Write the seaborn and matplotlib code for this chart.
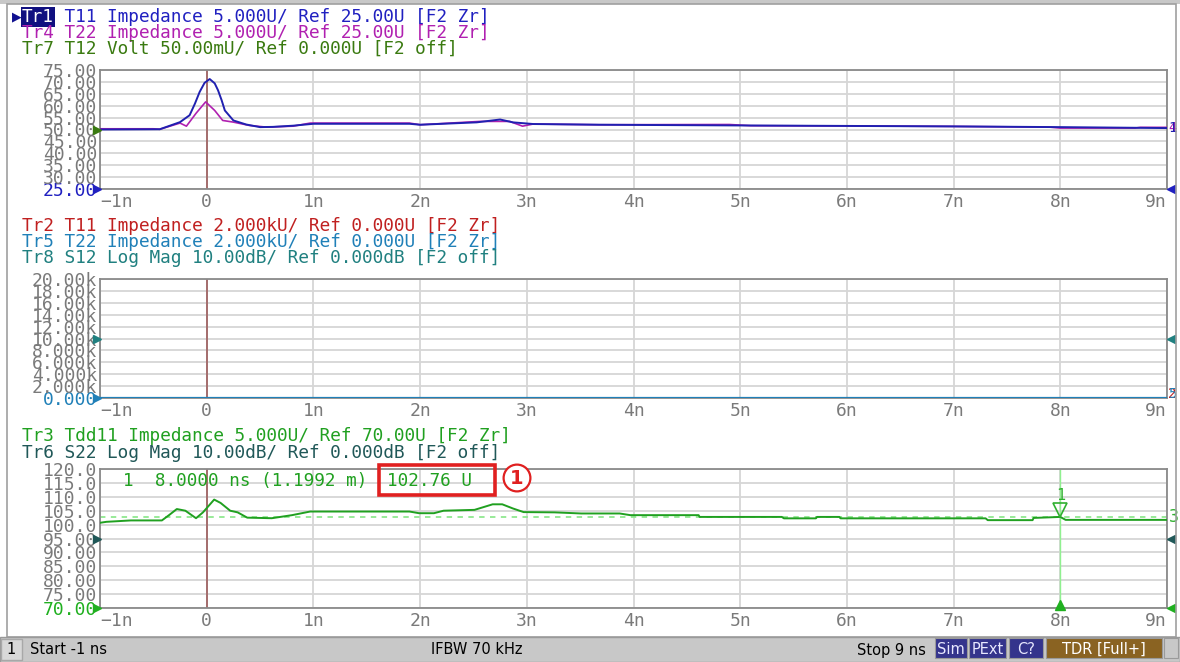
import numpy as np
import matplotlib
matplotlib.use('Agg')
import matplotlib.pyplot as plt
import seaborn as sns
from matplotlib.patches import Rectangle
from matplotlib.transforms import offset_copy

sns.set_style('white')
plt.rcParams['font.family'] = ['DejaVu Sans Mono', 'DejaVu Sans']

# ---------------- data ----------------
x_ticks = list(range(-1, 10))
x_labels = ['\u22121n', '0', '1n', '2n', '3n', '4n', '5n', '6n', '7n', '8n', '9n']

# panel 1 : T11 / T22 impedance (U)
t_t11 = [-1.0, -0.44, -0.25, -0.16, -0.11, -0.066, -0.02, 0.028, 0.075, 0.106, 0.14, 0.17,
         0.25, 0.37, 0.5, 0.62, 0.81, 1.0, 1.9, 2.0, 2.53, 2.75, 2.87, 3.06, 3.68,
         5.0, 6.0, 7.0, 8.0, 9.0]
v_t11 = [50.0, 50.1, 53.1, 56.0, 60.9, 65.8, 69.6, 71.2, 69.4, 66.5, 62.3, 58.0,
         53.8, 52.1, 51.0, 51.1, 51.6, 52.4, 52.4, 52.0, 53.0, 54.2, 53.0, 52.3, 52.0,
         51.7, 51.5, 51.3, 51.0, 50.6]
t_t22 = [-1.0, -0.5, -0.44, -0.25, -0.19, -0.1, -0.01, 0.075, 0.15, 0.25, 0.4, 0.56,
         0.81, 0.97, 1.9, 2.0, 2.56, 2.84, 2.96, 3.06, 3.68, 4.9, 5.1, 6.0, 7.0,
         7.9, 8.0, 8.7, 8.75, 9.0]
v_t22 = [50.3, 50.3, 50.1, 52.7, 51.4, 56.8, 61.6, 58.0, 53.8, 53.1, 51.7, 51.0,
         51.4, 52.7, 52.7, 52.0, 53.4, 53.4, 51.4, 52.3, 52.0, 52.1, 51.6, 51.5, 51.3,
         51.0, 50.6, 50.6, 50.9, 50.9]
top_yticks = [25, 30, 35, 40, 45, 50, 55, 60, 65, 70, 75]
top_ylabels = ['25.00', '30.00', '35.00', '40.00', '45.00', '50.00', '55.00',
               '60.00', '65.00', '70.00', '75.00']

# panel 2 : T11 / T22 impedance (kU)
t_mid = [-1.0, 9.0]
v_tr2 = [0.0, 0.0]
v_tr5 = [0.0, 0.0]
mid_yticks = [0, 2000, 4000, 6000, 8000, 10000, 12000, 14000, 16000, 18000, 20000]
mid_ylabels = ['0.000', '2.000k', '4.000k', '6.000k', '8.000k', '10.00k', '12.00k',
               '14.00k', '16.00k', '18.00k', '20.00k']

# panel 3 : Tdd11 impedance (U)
t_tdd = [-1.0, -0.94, -0.71, -0.42, -0.35, -0.28, -0.2, -0.1, -0.035, 0.07, 0.13, 0.22,
         0.29, 0.38, 0.61, 0.8, 0.97, 1.9, 1.99, 2.13, 2.22, 2.51, 2.68, 2.77, 2.87,
         2.97, 3.26, 3.51, 3.87, 3.97, 4.61, 4.62, 5.39, 5.41, 5.71, 5.72, 5.93, 5.94,
         7.30, 7.32, 7.74, 7.75, 8.0, 8.05, 9.0]
v_tdd = [100.65, 101.0, 101.5, 101.5, 103.5, 105.6, 105.0, 102.3, 104.4, 109.0, 107.8, 105.0,
         104.4, 102.5, 102.3, 103.4, 104.7, 104.7, 104.1, 104.1, 105.0, 105.3, 107.3, 107.3, 105.8,
         104.5, 104.4, 104.0, 104.0, 103.4, 103.4, 102.76, 102.76, 102.25, 102.25, 102.76, 102.76, 102.25,
         102.25, 101.6, 101.6, 102.4, 102.76, 101.7, 101.7]
bot_yticks = [70, 75, 80, 85, 90, 95, 100, 105, 110, 115, 120]
bot_ylabels = ['70.00', '75.00', '80.00', '85.00', '90.00', '95.00', '100.0',
               '105.0', '110.0', '115.0', '120.0']

marker_t = 8.0
marker_v = 102.76

# ---------------- figure ----------------
W, H = 1180, 662
fig = plt.figure(figsize=(W / 100, H / 100), dpi=100)
fig.patch.set_facecolor('white')


def fx(x):
    return x / W


def fy(y):
    return 1 - y / H


def tri(ax, x, y, m, c, dx=0, dy=0, ms=6):
    tr = offset_copy(ax.transData, fig=fig, x=dx, y=dy, units='dots')
    ax.plot([x], [y], marker=m, color=c, ms=ms, transform=tr, clip_on=False, ls='none', zorder=6)


def style(ax, ylim, yticks, ylabels, lab_color):
    ax.set_xlim(-1, 9)
    ax.set_ylim(*ylim)
    ax.set_xticks(x_ticks)
    ax.set_xticklabels(x_labels)
    ax.set_yticks(yticks)
    ax.set_yticklabels(ylabels)
    ax.set_xlabel('')
    ax.set_ylabel('')
    ax.grid(True, color='#d6d6d6', lw=1.3)
    ax.set_axisbelow(True)
    for s in ax.spines.values():
        s.set_color('#8a8a8a')
        s.set_linewidth(1.3)
    ax.tick_params(length=0, labelsize=13, labelcolor='#7a7a7a', pad=2)
    ax.tick_params(axis='x', pad=3)
    ax.get_yticklabels()[0].set_color(lab_color)
    ax.get_xticklabels()[0].set_ha('left')
    ax.get_xticklabels()[-1].set_ha('right')
    ax.axvline(0, color='#a06464', lw=1.3, zorder=2)


def add_ax(top, bottom):
    return fig.add_axes([fx(100), fy(bottom), (1167 - 100) / W, (bottom - top) / H])


# panel 1
ax1 = add_ax(70, 189)
sns.lineplot(x=t_t22, y=v_t22, ax=ax1, color='#b020b0', lw=1.2, zorder=3)
sns.lineplot(x=t_t11, y=v_t11, ax=ax1, color='#2020b0', lw=1.4, zorder=4)
style(ax1, (25, 75), top_yticks, top_ylabels, '#2020c0')
tri(ax1, -1, 50, '>', '#3a7a10', dx=-3)
tri(ax1, -1, 25, '>', '#2020c0', dx=-3)
tri(ax1, 9, 25, '<', '#2020c0', dx=4)
ax1.text(9, 50.8, '4', color='#b020b0', fontsize=10, va='center', ha='left',
         transform=offset_copy(ax1.transData, fig=fig, x=1, units='dots'))
ax1.text(9, 50.8, '1', color='#2020b0', fontsize=10, va='center', ha='left',
         transform=offset_copy(ax1.transData, fig=fig, x=1, units='dots'))

# panel 2
ax2 = add_ax(279, 398)
sns.lineplot(x=t_mid, y=v_tr2, ax=ax2, color='#c02020', lw=1.4, zorder=3)
sns.lineplot(x=t_mid, y=v_tr5, ax=ax2, color='#2080b8', lw=1.6, zorder=4)
style(ax2, (0, 20000), mid_yticks, mid_ylabels, '#2080b8')
tri(ax2, -1, 10000, '>', '#208080', dx=-3)
tri(ax2, -1, 0, '>', '#2080b8', dx=-3)
tri(ax2, 9, 10000, '<', '#208080', dx=4)
ax2.text(9, 0, '2', color='#c02020', fontsize=10, va='bottom', ha='left',
         transform=offset_copy(ax2.transData, fig=fig, x=1, y=-3, units='dots'))
ax2.text(9, 0, '5', color='#2080b8', fontsize=10, va='bottom', ha='left',
         transform=offset_copy(ax2.transData, fig=fig, x=1, y=-3, units='dots'))

# panel 3
ax3 = add_ax(469, 608)
ax3.axhline(marker_v, color='#90e890', lw=1.3, ls=(0, (3, 3)), zorder=2)
ax3.axvline(marker_t, color='#90f090', lw=1.0, zorder=2)
sns.lineplot(x=t_tdd, y=v_tdd, ax=ax3, color='#20a020', lw=1.4, zorder=4)
style(ax3, (70, 120), bot_yticks, bot_ylabels, '#20b020')
tri(ax3, -1, 70, '>', '#20b020', dx=-3)
tri(ax3, -1, 95, '>', '#205858', dx=-3)
tri(ax3, 9, 95, '<', '#205858', dx=4)
tri(ax3, 9, 70, '<', '#20b020', dx=4)
tri(ax3, marker_t, 70, '^', '#20b020', dy=3, ms=7)
ax3.plot([marker_t], [marker_v], marker='v', mfc='none', mec='#30b030', mew=1.2, ms=10,
         transform=offset_copy(ax3.transData, fig=fig, y=7, units='dots'), zorder=6, ls='none')
ax3.text(marker_t, marker_v, '1', color='#30b030', fontsize=11, ha='center', va='bottom',
         transform=offset_copy(ax3.transData, fig=fig, y=14, units='dots'))
ax3.text(9, marker_v, '3', color='#30b030', fontsize=12, va='center', ha='left',
         transform=offset_copy(ax3.transData, fig=fig, x=2, units='dots'))

# marker readout + callout
fig.text(fx(123), fy(481), '1  8.0000 ns (1.1992 m)', color='#20a020', fontsize=12.7, va='center')
fig.text(fx(387), fy(481), '%.2f U' % marker_v, color='#20a020', fontsize=12.7, va='center')
fig.patches.append(Rectangle((fx(379), fy(495)), fx(495) - fx(379), fy(465) - fy(495),
                             transform=fig.transFigure, fill=False, ec='#e02020', lw=2.6))
fig.text(fx(517), fy(478), '1', color='#e02020', fontsize=14, fontweight='bold',
         ha='center', va='center', family='DejaVu Sans',
         bbox=dict(boxstyle='circle,pad=0.2', fc='white', ec='#e02020', lw=1.6))

# trace headers
hs = 12.8
fig.text(fx(12), fy(17), '\u25b6', color='#101090', fontsize=9, va='center', family='DejaVu Sans')
fig.text(fx(22), fy(17), 'Tr1 T11 Impedance 5.000U/ Ref 25.00U [F2 Zr]', color='#2020c0',
         fontsize=hs, va='center')
fig.text(fx(22), fy(17), 'Tr1', color='white', fontsize=hs, va='center',
         bbox=dict(boxstyle='square,pad=0.05', fc='#101080', ec='none'))
fig.text(fx(22), fy(33), 'Tr4 T22 Impedance 5.000U/ Ref 25.00U [F2 Zr]', color='#b020b0',
         fontsize=hs, va='center')
fig.text(fx(22), fy(49), 'Tr7 T12 Volt 50.00mU/ Ref 0.000U [F2 off]', color='#3a7a10',
         fontsize=hs, va='center')

fig.text(fx(22), fy(226), 'Tr2 T11 Impedance 2.000kU/ Ref 0.000U [F2 Zr]', color='#c02020',
         fontsize=hs, va='center')
fig.text(fx(22), fy(242), 'Tr5 T22 Impedance 2.000kU/ Ref 0.000U [F2 Zr]', color='#2080b8',
         fontsize=hs, va='center')
fig.text(fx(22), fy(258), 'Tr8 S12 Log Mag 10.00dB/ Ref 0.000dB [F2 off]', color='#208080',
         fontsize=hs, va='center')

fig.text(fx(22), fy(436), 'Tr3 Tdd11 Impedance 5.000U/ Ref 70.00U [F2 Zr]', color='#20a020',
         fontsize=hs, va='center')
fig.text(fx(22), fy(453), 'Tr6 S22 Log Mag 10.00dB/ Ref 0.000dB [F2 off]', color='#205858',
         fontsize=hs, va='center')

# window frame
fig.patches.append(Rectangle((0, fy(4)), 1, 4 / H, transform=fig.transFigure,
                             fc='#c8c8c8', ec='none'))
fig.patches.append(Rectangle((fx(7), fy(637)), fx(1176) - fx(7), fy(4) - fy(637),
                             transform=fig.transFigure, fill=False, ec='#a0a0a0', lw=1.2))

# status bar
fig.patches.append(Rectangle((0, 0), 1, 25 / H, transform=fig.transFigure,
                             fc='#c8c8c8', ec='#9a9a9a', lw=1))
fig.patches.append(Rectangle((fx(1), fy(660)), 21 / W, 21 / H, transform=fig.transFigure,
                             fc='#d8d8d8', ec='#a8a8a8', lw=1))
sf = dict(fontsize=10.5, va='center', family='DejaVu Sans')
fig.text(fx(11), fy(650), '1', ha='center', color='black', **sf)
fig.text(fx(30), fy(650), 'Start -1 ns', ha='left', color='black', **sf)
fig.text(fx(477), fy(650), 'IFBW 70 kHz', ha='center', color='black', **sf)
fig.text(fx(926), fy(650), 'Stop 9 ns', ha='right', color='black', **sf)
boxes = [('Sim', 935, 967, '#34348c', '#e8e8ff'),
         ('PExt', 969, 1006, '#34348c', '#e8e8ff'),
         ('C?', 1009, 1043, '#34348c', '#e8e8ff'),
         ('TDR [Full+]', 1046, 1162, '#8a6322', 'white'),
         ('', 1164, 1178, '#c8c8c8', 'black')]
for lab, x0, x1, fc, tc in boxes:
    fig.patches.append(Rectangle((fx(x0), fy(658)), fx(x1) - fx(x0), 20 / H,
                                 transform=fig.transFigure, fc=fc, ec='#9a9a9a', lw=0.8))
    if lab:
        fig.text(fx((x0 + x1) / 2), fy(649), lab, ha='center', color=tc, **sf)

fig.savefig('out.png', dpi=100)
